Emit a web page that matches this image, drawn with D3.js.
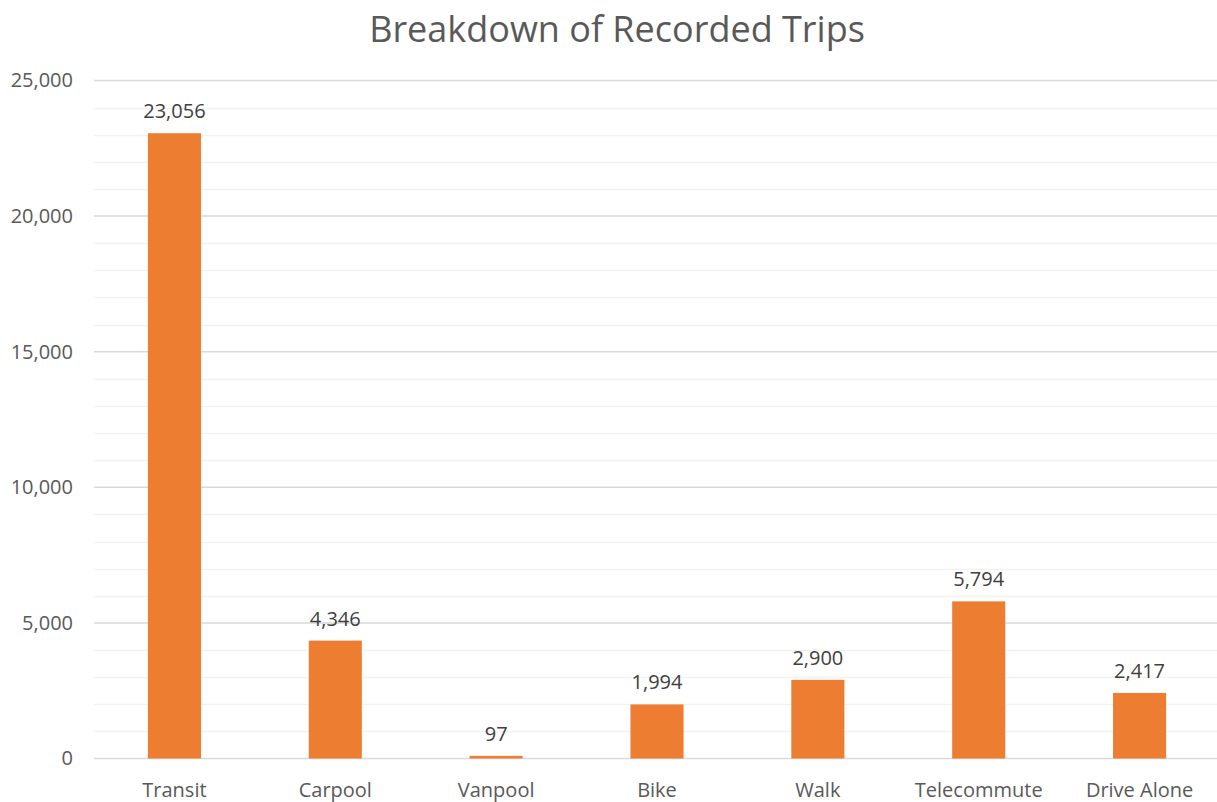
<!DOCTYPE html>
<html>
<head>
<meta charset="utf-8">
<script src="https://cdn.jsdelivr.net/npm/d3@7"></script>
<style>
  html, body { margin: 0; padding: 0; background: #fff; }
  svg { display: block; }
</style>
</head>
<body>
<svg id="chart" width="1217" height="802"></svg>
<script>
const categories = ["Transit", "Carpool", "Vanpool", "Bike", "Walk", "Telecommute", "Drive Alone"];
const values = [23056, 4346, 97, 1994, 2900, 5794, 2417];
const majorTicks = [0, 5000, 10000, 15000, 20000, 25000];
const minorTicks = d3.range(0, 25001, 1000);
const titleText = "Breakdown of Recorded Trips";

const svg = d3.select("#chart");
const fontFam = "'Open Sans', 'Noto Sans', sans-serif";
const textColor = "#595959";

const x = d3.scaleBand().domain(categories).range([94, 1220]).paddingInner(0.67).paddingOuter(0.335);
const y = d3.scaleLinear().domain([0, 25000]).range([758.5, 80.5]);

// minor gridlines
svg.append("g").selectAll("line").data(minorTicks.filter(t => t % 5000 !== 0)).join("line")
  .attr("x1", 94).attr("x2", 1217)
  .attr("y1", d => Math.round(y(d)) + 0.5).attr("y2", d => Math.round(y(d)) + 0.5)
  .attr("stroke", "#f2f2f2").attr("stroke-width", 1.5);

// major gridlines
svg.append("g").selectAll("line").data(majorTicks).join("line")
  .attr("x1", 94).attr("x2", 1217)
  .attr("y1", d => y(d)).attr("y2", d => y(d))
  .attr("stroke", "#d9d9d9").attr("stroke-width", 1.5);

// y axis labels
const yAxis = d3.axisLeft(y).tickValues(majorTicks).tickFormat(d3.format(",")).tickSize(0).tickPadding(0);
const gy = svg.append("g").attr("transform", "translate(73,0)").call(yAxis);
gy.select(".domain").remove();
gy.selectAll("text").attr("fill", textColor).style("font-family", fontFam).style("font-size", "20px");

// bars
svg.append("g").selectAll("rect").data(values).join("rect")
  .attr("x", (d, i) => x(categories[i]))
  .attr("width", x.bandwidth())
  .attr("y", d => y(d))
  .attr("height", d => y(0) - y(d))
  .attr("fill", "#ED7D31");

// data labels
svg.append("g").selectAll("text").data(values).join("text")
  .attr("x", (d, i) => x(categories[i]) + x.bandwidth() / 2)
  .attr("y", d => y(d) - 15)
  .attr("text-anchor", "middle")
  .attr("fill", "#404040")
  .style("font-family", fontFam).style("font-size", "20px")
  .text(d => d3.format(",")(d));

// x axis labels
const xAxis = d3.axisBottom(x).tickSize(0).tickPadding(0);
const gx = svg.append("g").attr("transform", "translate(0,758.5)").call(xAxis);
gx.select(".domain").remove();
gx.selectAll("text").attr("dy", "0").attr("y", 38).attr("fill", textColor)
  .style("font-family", fontFam).style("font-size", "20px");

// title
svg.append("text")
  .attr("x", 617).attr("y", 42)
  .attr("text-anchor", "middle")
  .attr("fill", textColor)
  .style("font-family", fontFam).style("font-size", "36px")
  .text(titleText);
</script>
</body>
</html>
